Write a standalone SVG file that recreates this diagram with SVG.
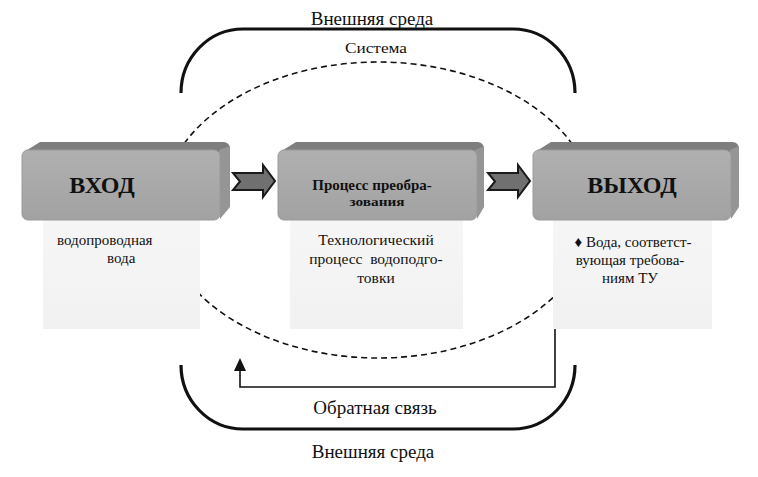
<svg xmlns="http://www.w3.org/2000/svg" width="758" height="477" viewBox="0 0 758 477">
<defs>
<linearGradient id="front" x1="0" y1="0" x2="0" y2="1">
<stop offset="0" stop-color="#b0b0b0"/><stop offset="1" stop-color="#a2a2a2"/>
</linearGradient>
<linearGradient id="area" x1="0" y1="0" x2="0" y2="1">
<stop offset="0" stop-color="#f6f6f6"/><stop offset="1" stop-color="#f1f1f1"/>
</linearGradient>
</defs>
<style>
text{font-family:'Liberation Serif','Times New Roman','DejaVu Serif',serif;fill:#111}
.b{font-weight:bold}
.top{fill:#7e7e7e}
.side{fill:#959595}
.front{fill:url(#front);stroke:#9a9a9a;stroke-width:1}
.area{fill:url(#area)}
.br{fill:none;stroke:#111;stroke-width:3.2}
.arr{fill:#707070;stroke:#1a1a1a;stroke-width:2}
</style>
<rect width="758" height="477" fill="#fff"/>
<g id="system">
<ellipse cx="378" cy="210" rx="217" ry="148" fill="none" stroke="#111" stroke-width="1.6" stroke-dasharray="6 4"/>
<text font-family="Liberation Serif, serif" x="376" y="53" font-size="15" text-anchor="middle" textLength="62" lengthAdjust="spacingAndGlyphs">Система</text>
</g>
<g id="env-top">
<path class="br" d="M181,93 A62 64 0 0 1 243,29 L513,29 A62 64 0 0 1 575,93"/>
<text font-family="Liberation Serif, serif" x="372" y="25" font-size="19" text-anchor="middle">Внешняя среда</text>
</g>
<g id="env-bottom">
<path class="br" d="M181,365 A62 64 0 0 0 243,429 L513,429 A62 64 0 0 0 575,365"/>
<text font-family="Liberation Serif, serif" x="373" y="458" font-size="19" text-anchor="middle">Внешняя среда</text>
</g>
<g id="input">
<rect class="area" x="43" y="220" width="157" height="109"/>
<path class="top" d="M24,152 L40,142 L224,142 Q230,143 230,149 L220,152 Z"/>
<path class="side" d="M219,150 L230,146 L230,207 L220,219 Z"/>
<rect class="front" x="22" y="150" width="198" height="70" rx="6"/>
<text font-family="Liberation Serif, serif" class="b" x="102" y="193" font-size="24" text-anchor="middle">ВХОД</text>
<text font-family="Liberation Serif, serif" x="57" y="245" font-size="15">водопроводная</text>
<text font-family="Liberation Serif, serif" x="107" y="263" font-size="15">вода</text>
</g>
<g id="process">
<rect class="area" x="290" y="220" width="173" height="109"/>
<path class="top" d="M280,152 L296,142 L478,142 Q484,143 484,149 L476,152 Z"/>
<path class="side" d="M475,150 L484,146 L484,207 L477,219 Z"/>
<rect class="front" x="278" y="150" width="199" height="70" rx="6"/>
<text font-family="Liberation Serif, serif" class="b" x="372" y="190" font-size="15" text-anchor="middle">Процесс преобра-</text>
<text font-family="Liberation Serif, serif" class="b" x="377" y="206" font-size="12" text-anchor="middle" textLength="55" lengthAdjust="spacingAndGlyphs">зования</text>
<text font-family="Liberation Serif, serif" x="376" y="245" font-size="15.5" text-anchor="middle">Технологический</text>
<text font-family="Liberation Serif, serif" x="376" y="264" font-size="15.5" text-anchor="middle" xml:space="preserve">процесс  водоподго-</text>
<text font-family="Liberation Serif, serif" x="376" y="283" font-size="15.5" text-anchor="middle">товки</text>
</g>
<g id="output">
<rect class="area" x="553" y="220" width="159" height="109"/>
<path class="top" d="M535,152 L551,142 L733,142 Q739,143 739,149 L731,152 Z"/>
<path class="side" d="M730,150 L739,146 L739,207 L731,219 Z"/>
<rect class="front" x="533" y="150" width="198" height="70" rx="6"/>
<text font-family="Liberation Serif, serif" class="b" x="632" y="193" font-size="24" text-anchor="middle">ВЫХОД</text>
<text font-family="Liberation Serif, serif" x="633" y="247" font-size="15" text-anchor="middle">♦ Вода, соответст-</text>
<text font-family="Liberation Serif, serif" x="630" y="265" font-size="15" text-anchor="middle">вующая требова-</text>
<text font-family="Liberation Serif, serif" x="630" y="283" font-size="15" text-anchor="middle">ниям ТУ</text>
</g>
<g id="connectors">
<path class="arr" d="M233,173 L263,173 L263,165 L275,181 L263,197 L263,190 L233,190 L240,181.5 Z"/>
<path class="arr" d="M488,173 L518,173 L518,165 L530,181 L518,197 L518,190 L488,190 L495,181.5 Z"/>
<path d="M555,329 L555,387 L240,387 L240,368" fill="none" stroke="#111" stroke-width="1.6"/>
<path d="M234,371 L246,371 L240,358 Z" fill="#111"/>
<text font-family="Liberation Serif, serif" x="375" y="414" font-size="19" text-anchor="middle">Обратная связь</text>
</g>
</svg>
